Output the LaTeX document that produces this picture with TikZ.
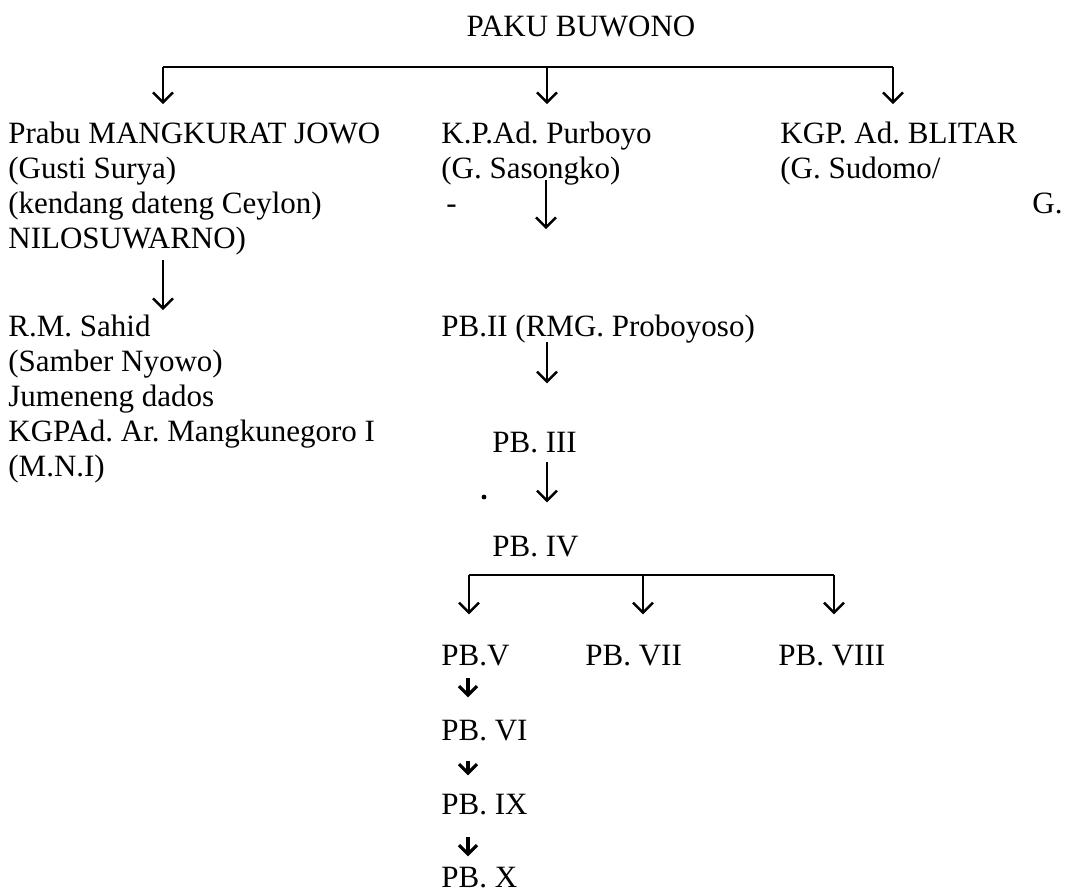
\documentclass[tikz,border=0pt]{standalone}
\usepackage{fontspec}
\setmainfont{Liberation Serif}
\usetikzlibrary{arrows.meta,calc}
\frenchspacing
\tikzset{
  lbl/.style={anchor=base west,inner sep=0pt,align=left,
    font=\fontsize{15.5pt}{17.5pt}\selectfont},
  line/.style={line width=1.2pt},
  arr/.style={line width=1.2pt,-{Straight Barb[length=5pt,width=10pt]}},
  arrsmall/.style={line width=1.6pt,-{Straight Barb[length=4.5pt,width=9pt]}}
}
\begin{document}
\begin{tikzpicture}[x=0.5pt,y=-0.5pt]
  \useasboundingbox (0,0) rectangle (1072,891);

  % top of the tree
  \node[lbl,anchor=base] (paku) at (581,36) {PAKU BUWONO};

  % multi-line nodes sit on the baseline of their last line
  \node[lbl] (mangkurat) at (8,248) {Prabu MANGKURAT JOWO\\(Gusti Surya)\\(kendang dateng Ceylon)\\NILOSUWARNO)};
  \node[lbl] (purboyo) at (441,178) {K.P.Ad. Purboyo\\(G. Sasongko)};
  \node[lbl] (blitar) at (780,178) {KGP. Ad. BLITAR\\(G. Sudomo/};
  \node[lbl] (dash) at (446,213) {-};
  \node[lbl] (gee) at (1032,213) {G.};

  \coordinate (b1) at (163,67);
  \coordinate (b2) at (547,67);
  \coordinate (b3) at (893,67);
  \draw[line] (b1) -- (b3);
  \draw[arr] (b1) -- ($(b1 |- mangkurat.north)+(0,-17)$);
  \draw[arr] (b2) -- ($(b2 |- purboyo.north)+(0,-17)$);
  \draw[arr] (b3) -- ($(b3 |- blitar.north)+(0,-17)$);

  % left branch
  \node[lbl] (sahid) at (8,476) {R.M. Sahid\\(Samber Nyowo)\\Jumeneng dados\\KGPAd. Ar. Mangkunegoro I\\(M.N.I)};
  \coordinate (s1) at (163,260);
  \draw[arr] (s1) -- ($(s1 |- sahid.north)+(0,-4)$);

  % middle branch
  \node[lbl] (pbii) at (441,336) {PB.II (RMG. Proboyoso)};
  \node[lbl] (pbiii) at (492,452) {PB. III};
  \node[lbl] (pbiv) at (492,556) {PB. IV};
  \coordinate (s2) at (546,180);
  \draw[arr] (s2) -- ($(s2 |- pbii.north)+(0,-85)$);
  \coordinate (s3) at (547,342);
  \draw[arr] (s3) -- ($(s3 |- pbiii.north)+(0,-48)$);
  \coordinate (s4) at (547,462);
  \draw[arr] (s4) -- ($(s4 |- pbiv.north)+(0,-33)$);
  \fill (484,497) circle (1.2pt);

  % children of PB. IV
  \node[lbl] (pbv) at (441,665) {PB.V};
  \node[lbl] (pbvii) at (585,665) {PB. VII};
  \node[lbl] (pbviii) at (778,665) {PB. VIII};
  \coordinate (c1) at (469,575);
  \coordinate (c2) at (643,575);
  \coordinate (c3) at (834,575);
  \draw[line] (c1) -- (c3);
  \draw[arr] (c1) -- ($(c1 |- pbv.north)+(0,-30)$);
  \draw[arr] (c2) -- ($(c2 |- pbvii.north)+(0,-30)$);
  \draw[arr] (c3) -- ($(c3 |- pbviii.north)+(0,-30)$);

  \node[lbl] (pbvi) at (441,740) {PB. VI};
  \node[lbl] (pbix) at (441,814) {PB. IX};
  \node[lbl] (pbx) at (441,887) {PB. X};
  \draw[arrsmall] ($(pbv.south west)+(27,12)$) -- ($(pbvi.north west)+(27,-22)$);
  \draw[arrsmall] ($(pbvi.south west)+(27,20)$) -- ($(pbix.north west)+(27,-18)$);
  \draw[arrsmall] ($(pbix.south west)+(27,22)$) -- ($(pbx.north west)+(27,-10)$);
\end{tikzpicture}
\end{document}
